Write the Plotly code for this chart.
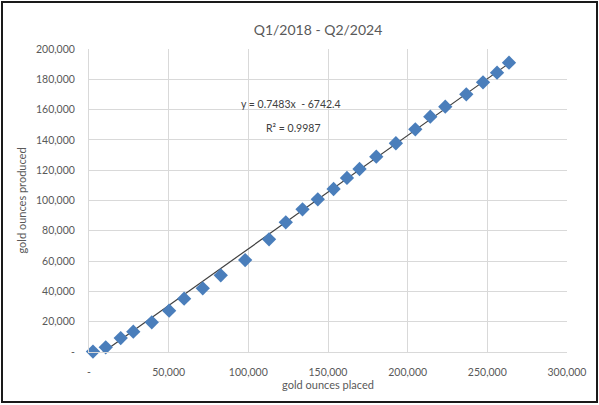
import plotly.graph_objects as go

# data (gold ounces placed vs produced, quarterly Q1/2018 - Q2/2024)
placed = [2500, 10500, 19900, 27800, 39400, 50300, 59700, 71400, 82700, 98000,
          113000, 123500, 134000, 143600, 153500, 161900, 169800, 180300, 192600,
          204800, 214200, 223600, 236800, 247300, 256100, 263600]
produced = [300, 3100, 9200, 13400, 19600, 27300, 35200, 42000, 50600, 60700,
            74400, 85600, 94200, 100800, 107600, 114900, 120800, 128900, 137800,
            147000, 155300, 161900, 170100, 178000, 184400, 191000]

slope = 0.7483
intercept = -6742.4

x_ticks = [0, 50000, 100000, 150000, 200000, 250000, 300000]
x_ticktext = ["-", "50,000", "100,000", "150,000", "200,000", "250,000", "300,000"]
y_ticks = [0, 20000, 40000, 60000, 80000, 100000, 120000, 140000, 160000, 180000, 200000]
y_ticktext = ["-", "20,000", "40,000", "60,000", "80,000", "100,000", "120,000",
              "140,000", "160,000", "180,000", "200,000"]

FONT = "Lato, 'Open Sans', sans-serif"
GRAY = "#595959"

xmin, xmax = min(placed), max(placed)
trend_x = [xmin, xmax]
trend_y = [slope * v + intercept for v in trend_x]

fig = go.Figure()
fig.add_trace(go.Scatter(x=trend_x, y=trend_y, mode="lines",
                         line=dict(color="#404040", width=1.2),
                         hoverinfo="skip", showlegend=False))
fig.add_trace(go.Scatter(x=placed, y=produced, mode="markers",
                         marker=dict(symbol="diamond", size=11, color="#4a7ebb"),
                         cliponaxis=False, showlegend=False))

fig.add_annotation(x=127000, y=163700, xref="x", yref="y",
                   text="y = 0.7483x  - 6742.4", showarrow=False,
                   font=dict(family=FONT, size=10.5, color="#404040"))
fig.add_annotation(x=128000, y=147900, xref="x", yref="y",
                   text="R² = 0.9987", showarrow=False,
                   font=dict(family=FONT, size=10.5, color="#404040"))

# outer frame
L, R, T, B = 89, 32, 49, 53
W, H = 599, 405
pw, ph = W - L - R, H - T - B
fig.add_shape(type="rect", xref="paper", yref="paper",
              x0=(2 - L) / pw, x1=(597 - L) / pw,
              y0=(H - B - 402) / ph, y1=(H - B - 2) / ph,
              line=dict(color="#1a1a1a", width=2), fillcolor="rgba(0,0,0,0)")

fig.update_layout(
    width=W, height=H,
    margin=dict(l=L, r=R, t=T, b=B),
    paper_bgcolor="white", plot_bgcolor="white",
    title=dict(text="Q1/2018 - Q2/2024", x=(318) / W, xanchor="center",
               y=1 - 30 / H, yanchor="middle",
               font=dict(family=FONT, size=14, color=GRAY)),
    font=dict(family=FONT, color=GRAY),
)
fig.update_xaxes(range=[0, 300000], tickvals=x_ticks, ticktext=x_ticktext,
                 showgrid=True, gridcolor="#d9d9d9", gridwidth=1,
                 zeroline=False, showline=True, linecolor="#d9d9d9",
                 ticks="outside", ticklen=10, tickcolor="rgba(0,0,0,0)",
                 tickfont=dict(family=FONT, size=10.5, color=GRAY),
                 title=dict(text="gold ounces placed", standoff=3,
                            font=dict(family=FONT, size=11, color=GRAY)))
fig.update_yaxes(range=[0, 200000], tickvals=y_ticks, ticktext=y_ticktext,
                 showgrid=True, gridcolor="#d9d9d9", gridwidth=1,
                 zeroline=False, showline=True, linecolor="#d9d9d9",
                 ticks="outside", ticklen=11, tickcolor="rgba(0,0,0,0)",
                 tickfont=dict(family=FONT, size=10.5, color=GRAY),
                 title=dict(text="gold ounces produced", standoff=7,
                            font=dict(family=FONT, size=11, color=GRAY)))

fig.write_html("out.html", config={"displayModeBar": False},
               post_script="document.body.style.margin='0';document.body.style.overflow='hidden';")
